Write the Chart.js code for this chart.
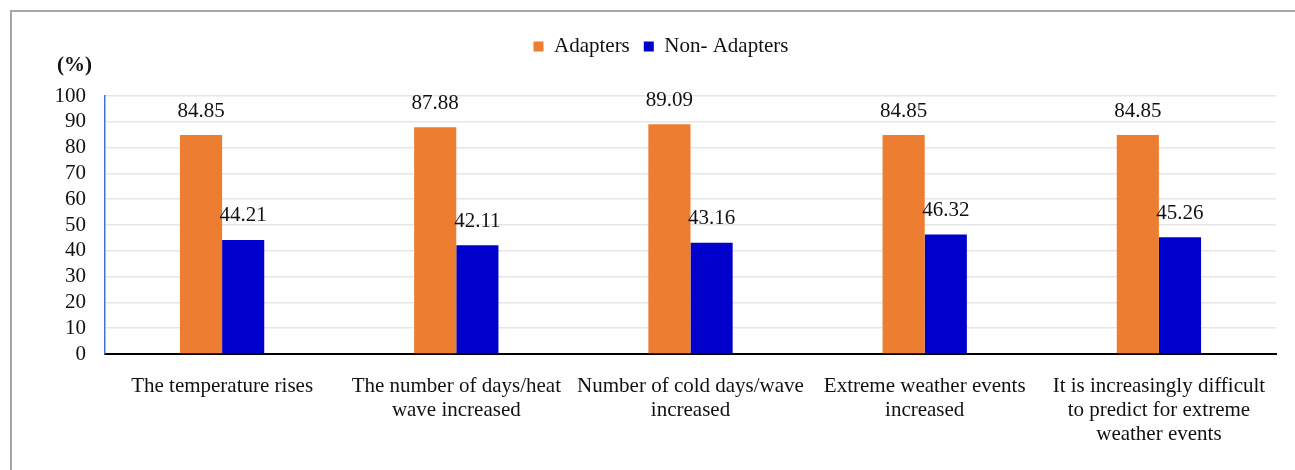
<!DOCTYPE html>
<html>
<head>
<meta charset="utf-8">
<script src="https://cdn.jsdelivr.net/npm/chart.js@4.4.1/dist/chart.umd.min.js"></script>
<style>
  html, body { margin: 0; padding: 0; background: #fff; }
  #wrap { position: relative; width: 1295px; height: 470px; overflow: hidden; }
  #frame { position: absolute; left: 10px; top: 10px; width: 1300px; height: 470px;
           border-top: 2px solid #a6a6a6; border-left: 2px solid #a6a6a6; }
  canvas { position: absolute; left: 0; top: 0; }
</style>
</head>
<body>
<div id="wrap">
  <div id="frame"></div>
  <canvas id="chart" width="1295" height="470"></canvas>
</div>
<script>
// Survey responses: share of respondents (%) perceiving each climate change sign
const categories = [
  "The temperature rises",
  ["The number of days/heat", "wave increased"],
  ["Number of cold days/wave", "increased"],
  ["Extreme weather events", "increased"],
  ["It is increasingly difficult", "to predict for extreme", "weather events"]
];
const adapters = [84.85, 87.88, 89.09, 84.85, 84.85];
const nonAdapters = [44.21, 42.11, 43.16, 46.32, 45.26];
const seriesNames = ["Adapters", "Non- Adapters"];
const yTickValues = [0, 10, 20, 30, 40, 50, 60, 70, 80, 90, 100];
const yUnit = "(%)";

const FONT = '"Liberation Serif", "Times New Roman", serif';

// Value printed above every bar
const valueLabels = {
  id: 'valueLabels',
  afterDatasetsDraw(chart) {
    const ctx = chart.ctx;
    ctx.save();
    ctx.font = '21px ' + FONT;
    ctx.fillStyle = '#111';
    ctx.textAlign = 'center';
    ctx.textBaseline = 'middle';
    chart.data.datasets.forEach((ds, i) => {
      chart.getDatasetMeta(i).data.forEach((bar, j) => {
        ctx.fillText(ds.data[j].toFixed(2), bar.x, bar.y - 24);
      });
    });
    ctx.restore();
  }
};

// Unit caption above the value axis
const unitCaption = {
  id: 'unitCaption',
  afterDraw(chart) {
    const ctx = chart.ctx;
    const area = chart.chartArea;
    ctx.save();
    ctx.font = 'bold 21px ' + FONT;
    ctx.fillStyle = '#111';
    ctx.textAlign = 'right';
    ctx.textBaseline = 'middle';
    ctx.fillText(yUnit, area.left - 13, area.top - 30);
    ctx.restore();
  }
};

// Fixed legend band height
const legendBand = {
  id: 'legendBand',
  beforeInit(chart) {
    const origFit = chart.legend.fit;
    chart.legend.fit = function () {
      origFit.bind(chart.legend)();
      this.height = 74;
    };
  }
};

new Chart(document.getElementById('chart'), {
  type: 'bar',
  data: {
    labels: categories,
    datasets: [
      { label: seriesNames[0], data: adapters, backgroundColor: '#ED7D31',
        categoryPercentage: 0.36, barPercentage: 1.0 },
      { label: seriesNames[1], data: nonAdapters, backgroundColor: '#0000CC',
        categoryPercentage: 0.36, barPercentage: 1.0 }
    ]
  },
  options: {
    responsive: false,
    devicePixelRatio: 1,
    animation: false,
    layout: { padding: { left: 46, right: 19, top: 22, bottom: 0 } },
    plugins: {
      legend: {
        position: 'top',
        labels: {
          font: { family: FONT, size: 21 },
          color: '#111',
          boxWidth: 10,
          boxHeight: 10,
          padding: 14
        }
      },
      tooltip: { enabled: false }
    },
    scales: {
      x: {
        grid: { display: false },
        border: { color: '#000', width: 2 },
        ticks: {
          font: { family: FONT, size: 21, lineHeight: 1.15 },
          color: '#111',
          maxRotation: 0,
          autoSkip: false,
          padding: 12
        },
        afterFit(scale) { scale.height = 116; }
      },
      y: {
        min: 0,
        max: 100,
        afterBuildTicks(scale) { scale.ticks = yTickValues.map(v => ({ value: v })); },
        grid: { color: '#e6e6e6', lineWidth: 1.5, drawTicks: false },
        border: { color: '#4472C4', width: 1.5 },
        ticks: {
          font: { family: FONT, size: 21 },
          color: '#111',
          padding: 19,
          autoSkip: false
        },
        afterFit(scale) { scale.width = 59; }
      }
    }
  },
  plugins: [valueLabels, unitCaption, legendBand]
});
</script>
</body>
</html>
